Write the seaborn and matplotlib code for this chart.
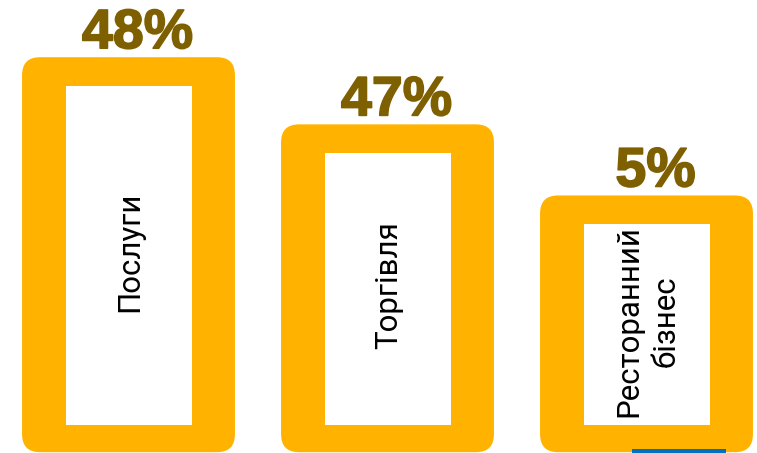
import matplotlib
matplotlib.use("Agg")
import matplotlib.pyplot as plt
import matplotlib.patheffects as pe
from matplotlib.patches import FancyBboxPatch, Rectangle
import seaborn as sns
import pandas as pd

# дані
categories = ["Послуги", "Торгівля", "Ресторанний\nбізнес"]
shares = [48, 47, 5]
bar_heights = [100, 83, 65]  # висота стовпців як на картинці (умовні одиниці)

ORANGE = "#FFB300"
OLIVE = "#7F6000"

df = pd.DataFrame({"cat": categories, "share": shares, "h": bar_heights})

sns.set_theme(style="white")
plt.rcParams["font.family"] = ["Roboto", "DejaVu Sans"]

fig = plt.figure(figsize=(7.57, 4.53), dpi=100)
ax = fig.add_axes([0, 0, 1, 1])

sns.barplot(data=df, x="cat", y="h", color=ORANGE, width=0.822, ax=ax,
            saturation=1)

# масштаб: пікселі -> одиниці даних
px_x = 1 / 259
px_y = 1 / 3.95
ax.set_xlim(-128.5 * px_x, (757 - 128.5) * px_x)
ax.set_ylim(-0.8 * px_y, 452.2 * px_y)
ax.axis("off")

for i, bar in enumerate(list(ax.patches)):
    x0, y0 = bar.get_x(), bar.get_y()
    w, h = bar.get_width(), bar.get_height()
    bar.set_visible(False)
    outer = FancyBboxPatch((x0, y0), w, h,
                           boxstyle=f"round,pad=0,rounding_size={18 * px_x}",
                           mutation_aspect=px_y / px_x,
                           facecolor=ORANGE, edgecolor="none")
    ax.add_patch(outer)
    ix0 = x0 + 44 * px_x
    iw = w - 87 * px_x
    iy0 = y0 + 27 * px_y
    ih = h - 56 * px_y
    ax.add_patch(Rectangle((ix0, iy0), iw, ih, facecolor="white", edgecolor="none"))

    ax.text(x0 + w / 2 + 1 * px_x, iy0 + ih / 2 + 4 * px_y, categories[i],
            rotation=90, ha="center", va="center", multialignment="center",
            fontsize=22.5, color="black", linespacing=1.35)

    ax.text(x0 + w / 2 + 9 * px_x, h + 9 * px_y, f"{shares[i]}%",
            ha="center", va="baseline", fontsize=40, fontweight="bold",
            color=OLIVE, family="Liberation Sans",
            path_effects=[pe.withStroke(linewidth=1.2, foreground=OLIVE)])

# синя смужка внизу праворуч
fig.add_artist(Rectangle((632 / 757, 0), 94 / 757, 4 / 453,
                         transform=fig.transFigure, facecolor="#0070C0",
                         edgecolor="none"))

fig.savefig("out.png", dpi=100, facecolor="white")
